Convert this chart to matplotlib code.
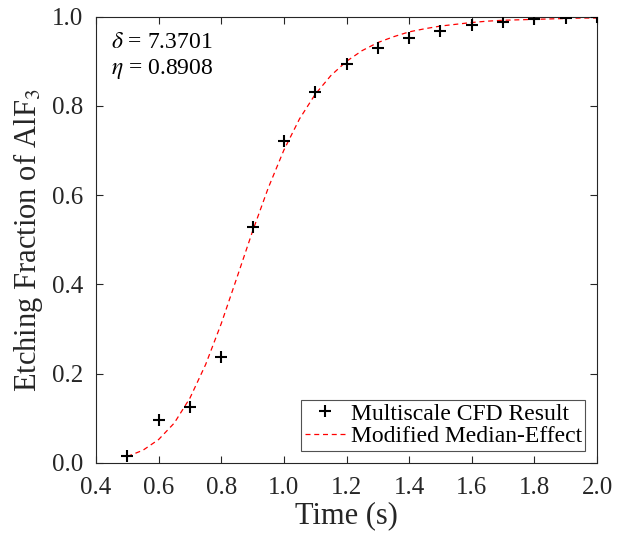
import numpy as np
import matplotlib
matplotlib.use("Agg")
import matplotlib.pyplot as plt

plt.rcParams['font.family'] = ['Liberation Serif', 'DejaVu Serif']
plt.rcParams['mathtext.fontset'] = 'stix'

# CFD result points
time_cfd = [0.5, 0.6, 0.7, 0.8, 0.9, 1.0, 1.1, 1.2, 1.3, 1.4, 1.5, 1.6, 1.7, 1.8, 1.9, 2.0]
frac_cfd = [0.016, 0.096, 0.125, 0.236, 0.528, 0.721, 0.831, 0.894, 0.929, 0.953,
            0.969, 0.981, 0.988, 0.994, 0.998, 0.999]

# fitted curve, read at 0.05 s steps
time_fit = [0.50, 0.55, 0.60, 0.65, 0.70, 0.75, 0.80, 0.85, 0.90, 0.95, 1.00,
            1.05, 1.10, 1.15, 1.20, 1.25, 1.30, 1.35, 1.40, 1.45, 1.50,
            1.55, 1.60, 1.65, 1.70, 1.75, 1.80, 1.85, 1.90, 1.95, 2.00]
frac_fit = [0.014, 0.028, 0.052, 0.089, 0.145, 0.220, 0.312, 0.415, 0.519, 0.616, 0.701,
            0.771, 0.826, 0.868, 0.900, 0.924, 0.942, 0.955, 0.966, 0.973, 0.979,
            0.983, 0.987, 0.990, 0.992, 0.993, 0.994, 0.995, 0.996, 0.997, 0.997]

xticks = [0.4, 0.6, 0.8, 1.0, 1.2, 1.4, 1.6, 1.8, 2.0]
yticks = [0.0, 0.2, 0.4, 0.6, 0.8, 1.0]

fig = plt.figure(figsize=(6.21, 5.35), dpi=100)
ax = fig.add_axes([0.1546, 0.1351, 0.8068, 0.8337])

ax.plot(time_cfd, frac_cfd, '+', color='black', markersize=8, markeredgewidth=1.5,
        label='Multiscale CFD Result', zorder=3)
ax.plot(time_fit, frac_fit, '--', color='red', lw=0.9, dashes=(4, 3),
        label='Modified Median-Effect', zorder=2)

ax.set_xlim(0.4, 2.0)
ax.set_ylim(0.0, 1.0)
ax.set_xticks(xticks)
ax.set_xticklabels(['%.1f' % v for v in xticks])
ax.set_yticks(yticks)
ax.set_yticklabels(['%.1f' % v for v in yticks])
ax.tick_params(direction='in', top=True, right=True, length=5, width=0.8,
               labelsize=18, colors='#262626')
ax.tick_params(axis='x', pad=10)
ax.tick_params(axis='y', pad=9)
for s in ax.spines.values():
    s.set_color('#262626')
    s.set_linewidth(0.8)

ax.set_xlabel('Time (s)', fontsize=22, color='#262626', labelpad=2)
ax.set_ylabel('Etching Fraction of AlF$_3$', fontsize=22, color='#262626', labelpad=5)

ax.text(0.03, 0.965, '$\\delta$ = 7.3701\n$\\eta$ = 0.8908', transform=ax.transAxes,
        fontsize=17, va='top', ha='left', linespacing=1.2)

leg = ax.legend(loc='lower right', fontsize=17, frameon=True, fancybox=False,
                edgecolor='#262626', handlelength=1.7, handletextpad=0.25,
                borderpad=0.15, labelspacing=0.05, borderaxespad=0.5)
leg.get_frame().set_linewidth(0.8)

plt.savefig('out.png', dpi=100)
